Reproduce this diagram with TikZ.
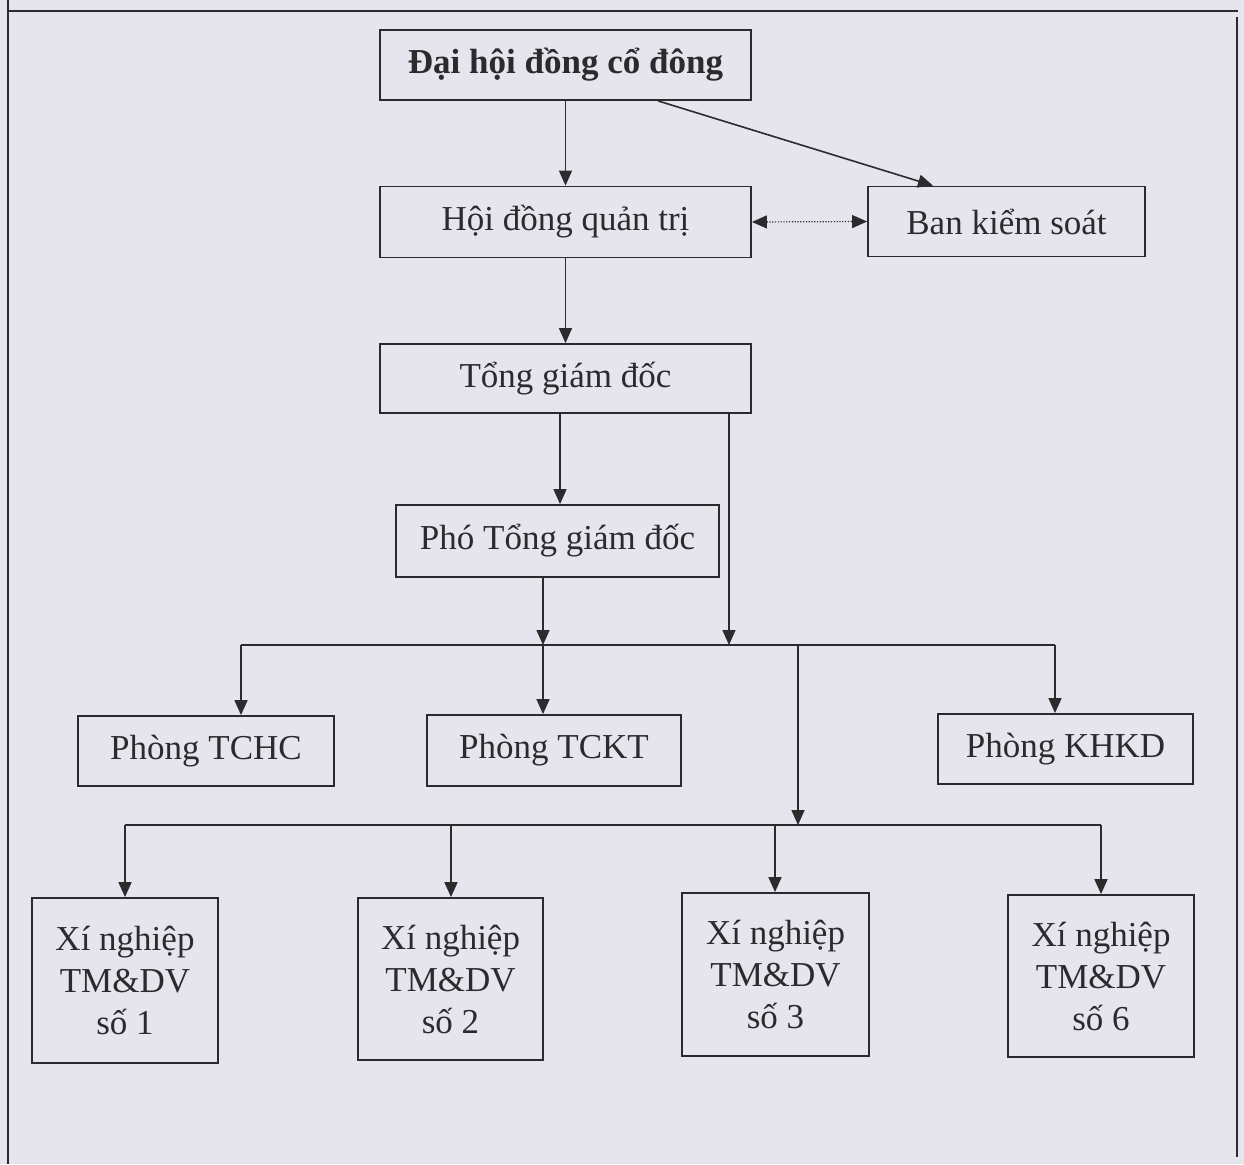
\documentclass[tikz,border=0pt]{standalone}
\usepackage{fontspec}
\setmainfont{Liberation Serif}
\usetikzlibrary{arrows.meta}
\definecolor{bg}{HTML}{E6E5EE}
\definecolor{ink}{HTML}{2B2B2E}
\tikzset{
  box/.style={draw=ink, line width=1.8pt, rectangle, inner sep=0pt, align=center,
              text=ink, font=\fontsize{35}{42}\selectfont},
  arr/.style={draw=ink, line width=1.6pt, -{Triangle[length=15pt,width=13pt]}},
  bus/.style={draw=ink, line width=1.6pt},
  dots/.style={draw=ink, line width=1.2pt, dash pattern=on 1.2pt off 1.6pt,
               {Triangle[length=15pt,width=13pt]}-{Triangle[length=15pt,width=13pt]}},
  frame/.style={draw=ink, line width=1.6pt}
}
\begin{document}
\begin{tikzpicture}[x=1pt,y=-1pt]
\fill[bg] (0,0) rectangle (1244,1164);
\useasboundingbox (0,0) rectangle (1244,1164);
% outer frame
\draw[frame] (8,0) -- (8,1164);
\draw[frame] (8,11) -- (1238,11);
\draw[frame] (1237,17) -- (1237,1157);
% boxes
\node[box, minimum width=371pt, minimum height=70pt] (dh) at (565.5,65) {\textbf{Đại hội đồng cổ đông}};
\node[box, minimum width=371pt, minimum height=71pt] (hd) at (565.5,222) {Hội đồng quản trị};
\node[box, minimum width=277pt, minimum height=70pt] (bks) at (1006.5,221.5) {Ban kiểm soát};
\node[box, minimum width=371pt, minimum height=69pt] (tgd) at (565.5,378.5) {Tổng giám đốc};
\node[box, minimum width=323pt, minimum height=72pt] (ptgd) at (557.5,541) {Phó Tổng giám đốc};
\node[box, minimum width=256pt, minimum height=70pt] (tchc) at (206,751) {Phòng TCHC};
\node[box, minimum width=254pt, minimum height=71pt] (tckt) at (554,750.5) {Phòng TCKT};
\node[box, minimum width=255pt, minimum height=70pt] (khkd) at (1065.5,749) {Phòng KHKD};
\node[box, minimum width=186pt, minimum height=165pt] (xn1) at (125,980.5) {Xí nghiệp\\TM\&DV\\số 1};
\node[box, minimum width=185pt, minimum height=162pt] (xn2) at (450.5,979) {Xí nghiệp\\TM\&DV\\số 2};
\node[box, minimum width=187pt, minimum height=163pt] (xn3) at (775.5,974.5) {Xí nghiệp\\TM\&DV\\số 3};
\node[box, minimum width=186pt, minimum height=162pt] (xn6) at (1101,976) {Xí nghiệp\\TM\&DV\\số 6};
% helper coordinates
\coordinate (d1) at (658,0);
\coordinate (d2) at (933,0);
\coordinate (t1) at (560,0);
\coordinate (b1L) at (241,645);
\coordinate (b1R) at (1055,645);
\coordinate (j1) at (543,645);
\coordinate (j2) at (729,645);
\coordinate (j3) at (798,645);
\coordinate (b2L) at (125,825);
\coordinate (b2R) at (1101,825);
\coordinate (j4) at (798,825);
\coordinate (k2) at (451,825);
\coordinate (k3) at (775,825);
% connectors
\draw[arr] (dh) -- (hd);
\draw[arr] (dh.south -| d1) -- (bks.north -| d2);
\draw[dots] (hd.east) -- (bks.west);
\draw[arr] (hd) -- (tgd);
\draw[arr] (tgd.south -| t1) -- (ptgd.north -| t1);
\draw[arr] (tgd.south -| j2) -- (j2);
\draw[arr] (ptgd.south -| j1) -- (j1);
\draw[bus] (b1L) -- (b1R);
\draw[arr] (b1L) -- (tchc.north -| b1L);
\draw[arr] (j1) -- (tckt.north -| j1);
\draw[arr] (b1R) -- (khkd.north -| b1R);
\draw[arr] (j3) -- (j4);
\draw[bus] (b2L) -- (b2R);
\draw[arr] (b2L) -- (xn1.north -| b2L);
\draw[arr] (k2) -- (xn2.north -| k2);
\draw[arr] (k3) -- (xn3.north -| k3);
\draw[arr] (b2R) -- (xn6.north -| b2R);
\end{tikzpicture}
\end{document}
